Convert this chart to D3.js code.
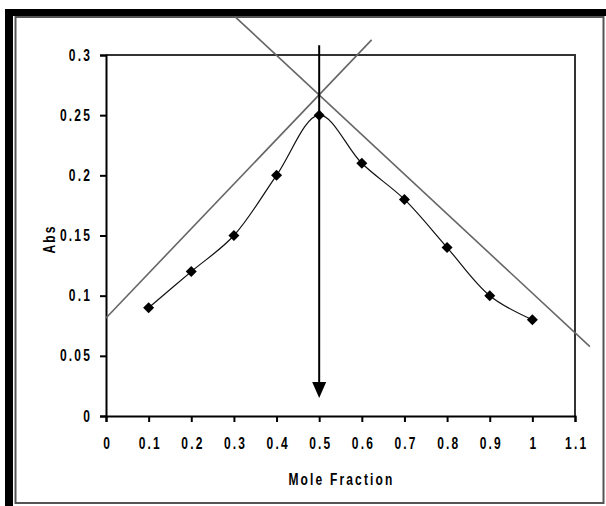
<!DOCTYPE html>
<meta charset="utf-8">
<script src="https://d3js.org/d3.v7.min.js"></script>
<style>
  body { margin: 0; background: #fff; }
  .lbl { font-family: "Liberation Sans", Arial, sans-serif; font-weight: bold; font-size: 16px; letter-spacing: 2.9px; fill: #000; }
</style>
<div id="my_dataviz"></div>
<script>

// data
var moleFraction = [0.1, 0.2, 0.3, 0.4, 0.5, 0.6, 0.7, 0.8, 0.9, 1.0];
var absValues = [0.09, 0.12, 0.15, 0.20, 0.25, 0.21, 0.18, 0.14, 0.10, 0.08];
var xTicks = [0, 0.1, 0.2, 0.3, 0.4, 0.5, 0.6, 0.7, 0.8, 0.9, 1, 1.1];
var yTicks = [0, 0.05, 0.1, 0.15, 0.2, 0.25, 0.3];
// the two straight tangent lines (start and end points, in data units)
var tangentUp = [[0, 0.0815], [0.623, 0.3126]];
var tangentDown = [[0.303, 0.3317], [1.135, 0.0576]];
// vertical arrow at the crossing
var arrowX = 0.5, arrowTop = 0.308, arrowTip = 0.015;

var squeeze = 0.75; // the labels are drawn narrow

var svg = d3.select("#my_dataviz")
  .append("svg")
    .attr("width", 606)
    .attr("height", 506);

// outer frame: thick black band top/left, thin grey box
svg.append("rect").attr("x", 5).attr("y", 9).attr("width", 601).attr("height", 7).attr("fill", "#000");
svg.append("rect").attr("x", 5).attr("y", 9).attr("width", 8).attr("height", 497).attr("fill", "#000");
svg.append("rect")
  .attr("x", 15.5).attr("y", 17).attr("width", 588).attr("height", 486)
  .attr("fill", "none").attr("stroke", "#555").attr("stroke-width", 2);

var x = d3.scaleLinear().domain([0, 1.1]).range([106, 575]);
var y = d3.scaleLinear().domain([0, 0.3]).range([416, 55]);

var fmt = function(d) { return String(+d.toFixed(2)); };

// plot area border (top + right)
svg.append("path")
  .attr("d", "M" + x(0) + "," + y(0.3) + "H" + x(1.1) + "V" + y(0))
  .attr("fill", "none").attr("stroke", "#333").attr("stroke-width", 2);

// X axis
var gx = svg.append("g")
  .attr("transform", "translate(0," + y(0) + ")")
  .call(d3.axisBottom(x).tickValues(xTicks).tickSizeOuter(0).tickSize(6).tickPadding(16).tickFormat(fmt));
gx.select(".domain").attr("stroke-width", 2);
gx.selectAll(".tick line").attr("stroke-width", 2);
gx.selectAll("text")
  .attr("class", "lbl").attr("font-size", null).attr("font-family", null)
  .attr("x", 1.5)
  .attr("transform", "scale(" + squeeze + ",1)");

// Y axis
var gy = svg.append("g")
  .attr("transform", "translate(" + x(0) + ",0)")
  .call(d3.axisLeft(y).tickValues(yTicks).tickSizeOuter(0).tickSize(6).tickPadding(9).tickFormat(fmt));
gy.select(".domain").attr("stroke-width", 2);
gy.selectAll(".tick line").attr("stroke-width", 2);
gy.selectAll("text")
  .attr("class", "lbl").attr("font-size", null).attr("font-family", null)
  .attr("x", -14 / squeeze)
  .attr("transform", "scale(" + squeeze + ",1)");

// axis titles
svg.append("text")
  .attr("class", "lbl")
  .attr("transform", "translate(" + ((x(0) + x(1.1)) / 2 + 1) + ",485) scale(" + squeeze + ",1)")
  .style("text-anchor", "middle")
  .text("Mole Fraction");

svg.append("text")
  .attr("class", "lbl")
  .attr("transform", "translate(55,239) rotate(-90) scale(" + squeeze + ",1)")
  .style("text-anchor", "middle")
  .text("Abs");

// tangent lines
var straight = d3.line().x(function(d) { return x(d[0]); }).y(function(d) { return y(d[1]); });
[tangentUp, tangentDown].forEach(function(t) {
  svg.append("path")
    .attr("d", straight(t))
    .attr("fill", "none")
    .attr("stroke", "#666")
    .attr("stroke-width", 1.6);
});

// smoothed data line
var pts = moleFraction.map(function(m, i) { return [m, absValues[i]]; });
svg.append("path")
  .attr("d", d3.line().x(function(d) { return x(d[0]); }).y(function(d) { return y(d[1]); })
    .curve(d3.curveCatmullRom)(pts))
  .attr("fill", "none")
  .attr("stroke", "#111")
  .attr("stroke-width", 1.2);

// diamond markers
svg.append("g")
  .selectAll("path")
  .data(pts)
  .enter()
  .append("path")
    .attr("transform", function(d) { return "translate(" + x(d[0]) + "," + y(d[1]) + ")"; })
    .attr("d", "M0,-5.5L5.5,0L0,5.5L-5.5,0Z")
    .attr("fill", "#000");

// vertical arrow
var ax = x(arrowX), tipY = y(arrowTip);
svg.append("line")
  .attr("x1", ax).attr("x2", ax)
  .attr("y1", y(arrowTop)).attr("y2", tipY - 12)
  .attr("stroke", "#000").attr("stroke-width", 2);
svg.append("path")
  .attr("d", "M" + (ax - 7) + "," + (tipY - 16) + "L" + (ax + 7) + "," + (tipY - 16) + "L" + ax + "," + tipY + "Z")
  .attr("fill", "#000");

</script>
